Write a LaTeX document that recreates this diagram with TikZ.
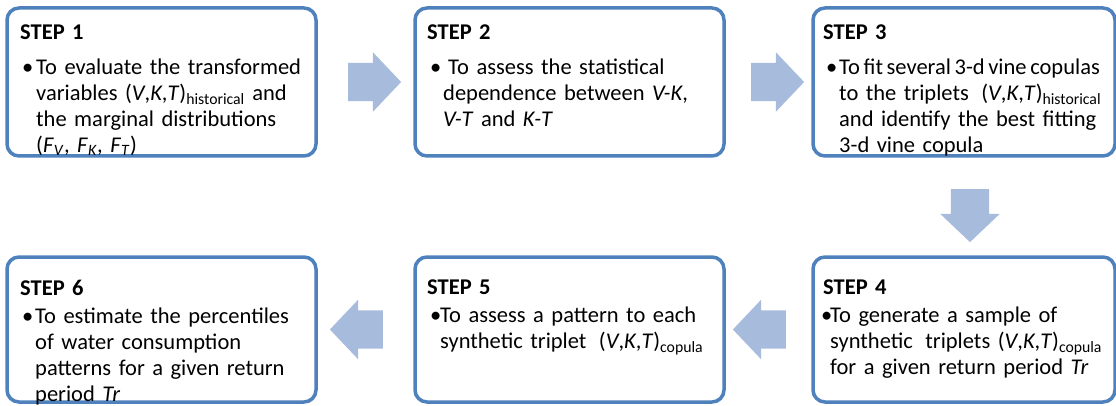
\documentclass[tikz,border=0pt]{standalone}
\usepackage{fontspec}
\setmainfont{Carlito}
\usetikzlibrary{positioning,shapes.arrows,calc}

\definecolor{boxblue}{RGB}{79,129,189}
\definecolor{arrowblue}{RGB}{167,187,220}

% bullet item: text indent, bullet offset, gap below the heading, lines
\newcommand{\stepitem}[4]{\par\vspace{#3}\noindent
  \makebox[#1][l]{\hspace{#2}\textbullet}\parbox[t]{300pt}{\raggedright #4}}

\tikzset{
  stepbox/.style={draw=boxblue, line width=3.5pt, rounded corners=12pt, fill=white,
    minimum width=309pt, minimum height=148pt, inner sep=0pt, outer sep=0pt, anchor=north west},
  steptext/.style={anchor=north west, inner sep=0pt, text width=330pt, align=left,
    font=\fontsize{22.5}{26}\selectfont},
  flow/.style={single arrow, fill=arrowblue, draw=none, inner xsep=0pt, inner ysep=19pt,
    minimum height=53pt, minimum width=59pt, single arrow head extend=10.5pt,
    single arrow tip angle=93, outer sep=0pt}
}

\begin{document}
\begin{tikzpicture}[x=1pt,y=-1pt]
  \useasboundingbox (0,0) rectangle (1116,406);

  % boxes
  \node[stepbox] (s1) at (7,8) {};
  \node[stepbox] (s2) at (415,8) {};
  \node[stepbox, minimum width=302pt] (s3) at (813,8) {};
  \node[stepbox, minimum width=302pt, minimum height=145pt] (s4) at (813,257) {};
  \node[stepbox, minimum height=145pt] (s5) at (415,257) {};
  \node[stepbox, minimum height=145pt] (s6) at (7,257) {};

  % texts
  \node[steptext] (t1) at ([xshift=13pt,yshift=-16.5pt]s1.north west)
    {{\bfseries STEP 1}\stepitem{16pt}{2pt}{9pt}{To evaluate the transformed\\
     variables (\textit{V},\textit{K},\textit{T})\textsubscript{historical} and\\
     the marginal distributions\\
     (\textit{F}\textsubscript{\textit{V}}, \textit{F}\textsubscript{\textit{K}}, \textit{F}\textsubscript{\textit{T}})}};
  \node[steptext] (t2) at ([xshift=12pt,yshift=-16.5pt]s2.north west)
    {{\bfseries STEP 2}\stepitem{16pt}{3pt}{9pt}{\hspace*{5pt}To assess the statistical\\
     dependence between \textit{V-K},\\
     \textit{V-T} and \textit{K-T}}};
  \node[steptext] (t3) at ([xshift=10pt,yshift=-16.5pt]s3.north west)
    {{\bfseries STEP 3}\stepitem{16pt}{3pt}{9pt}{{\spaceskip=3.6pt To fit several 3-d vine copulas}\\
     to the triplets\hspace{5pt} (\textit{V},\textit{K},\textit{T})\textsubscript{historical}\\
     and identify the best fitting\\
     3-d vine copula}};
  \node[steptext] (t4) at ([xshift=10pt,yshift=-22.5pt]s4.north west)
    {{\bfseries STEP 4}\stepitem{7pt}{-2pt}{2pt}{To generate a sample of\\
     synthetic\hspace{5pt} triplets (\textit{V},\textit{K},\textit{T})\textsubscript{copula}\\
     for a given return period \textit{Tr}}};
  \node[steptext] (t5) at ([xshift=12pt,yshift=-22.5pt]s5.north west)
    {{\bfseries STEP 5}\stepitem{13pt}{3pt}{2pt}{To assess a pattern to each\\
     synthetic triplet\hspace{5pt} (\textit{V},\textit{K},\textit{T})\textsubscript{copula}}};
  \node[steptext] (t6) at ([xshift=13pt,yshift=-22.5pt]s6.north west)
    {{\bfseries STEP 6}\stepitem{15pt}{2pt}{2pt}{To estimate the percentiles\\
     of water consumption\\
     patterns for a given return\\
     period \textit{Tr}}};

  % block arrows
  \node[flow] (a12) at ($(s1.east)!0.5!(s2.west)$) {};
  \node[flow] (a23) at ($(s2.east)!0.5!(s3.west)$) {};
  \node[flow, rotate=270] (a34) at ($(s3.south)!0.5!(s4.north)+(6,0)$) {};
  \node[flow, rotate=180] (a45) at ($(s4.west)!0.5!(s5.east)$) {};
  \node[flow, rotate=180] (a56) at ($(s5.west)!0.5!(s6.east)$) {};
\end{tikzpicture}
\end{document}
